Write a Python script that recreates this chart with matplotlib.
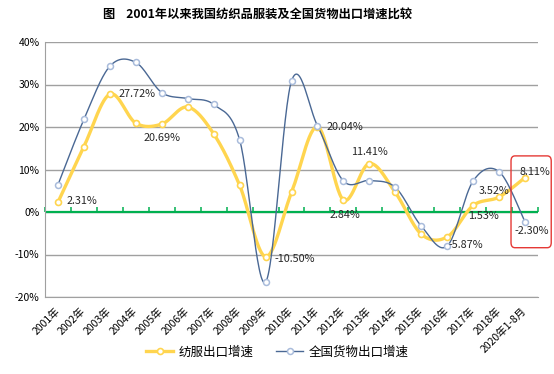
import numpy as np
import matplotlib
matplotlib.use('Agg')
import matplotlib.pyplot as plt
from matplotlib.patches import FancyBboxPatch

plt.rcParams['font.family'] = ['Noto Sans CJK SC', 'DejaVu Sans']

categories = ['2001年', '2002年', '2003年', '2004年', '2005年', '2006年', '2007年',
              '2008年', '2009年', '2010年', '2011年', '2012年', '2013年', '2014年',
              '2015年', '2016年', '2017年', '2018年', '2020年1-8月']
textile = [2.31, 15.4, 27.72, 20.9, 20.69, 24.7, 18.4, 6.3, -10.50, 4.6,
           20.04, 2.84, 11.41, 4.6, -5.2, -5.87, 1.53, 3.52, 8.11]
national = [6.4, 21.8, 34.3, 35.2, 28.1, 26.7, 25.3, 17.0, -16.5, 30.8,
            20.3, 7.3, 7.4, 5.8, -3.3, -8.0, 7.3, 9.5, -2.30]
yticks = [-20, -10, 0, 10, 20, 30, 40]

# labelled points: (series, index, dx px, dy px)
labels = [('t', 0, 24, 1), ('t', 2, 27, 0), ('t', 4, 0, -14), ('t', 8, 29, -2),
          ('t', 10, 27, 0), ('t', 11, 2, -15), ('t', 12, 0, 12), ('t', 15, 19, -8),
          ('t', 16, 10, -11), ('t', 17, -5, 6), ('t', 18, 10, 6), ('n', 18, 7, -9)]


def smooth(x, y, n=30):
    # excel-like smoothed line (catmull-rom bezier)
    x = np.asarray(x, float)
    y = np.asarray(y, float)
    px = np.concatenate([[x[0]], x, [x[-1]]])
    py = np.concatenate([[y[0]], y, [y[-1]]])
    t = np.linspace(0, 1, n)
    xs, ys = [], []
    for i in range(1, len(px) - 2):
        p0x, p1x, p2x, p3x = px[i - 1], px[i], px[i + 1], px[i + 2]
        p0y, p1y, p2y, p3y = py[i - 1], py[i], py[i + 1], py[i + 2]
        c1x, c1y = p1x + (p2x - p0x) / 6, p1y + (p2y - p0y) / 6
        c2x, c2y = p2x - (p3x - p1x) / 6, p2y - (p3y - p1y) / 6
        b = [(1 - t) ** 3, 3 * (1 - t) ** 2 * t, 3 * (1 - t) * t ** 2, t ** 3]
        xs.append(b[0] * p1x + b[1] * c1x + b[2] * c2x + b[3] * p2x)
        ys.append(b[0] * p1y + b[1] * c1y + b[2] * c2y + b[3] * p2y)
    return np.concatenate(xs), np.concatenate(ys)


fig = plt.figure(figsize=(5.54, 3.74), dpi=100)
ax = fig.add_axes([45 / 554, 1 - 297 / 374, 493 / 554, 255 / 374])

x = np.arange(len(categories))
yellow = '#FFD54F'
blue = '#4A6894'

ax.set_xlim(-0.5, len(categories) - 0.5)
ax.set_ylim(yticks[0], yticks[-1])
ax.set_yticks(yticks)
ax.set_yticklabels([f'{v}%' for v in yticks], fontsize=7.5)
ax.yaxis.grid(True, color='#A0A0A0', linewidth=1)
ax.set_axisbelow(True)
for s in ['top', 'right']:
    ax.spines[s].set_visible(False)
for s in ['left', 'bottom']:
    ax.spines[s].set_color('#A0A0A0')
ax.tick_params(axis='y', length=0, pad=4)
ax.set_xticks(x)
ax.set_xticklabels(categories, rotation=45, ha='right', va='center',
                   rotation_mode='anchor', fontsize=7.5)
ax.tick_params(axis='x', length=0, pad=9)

# zero axis with category-boundary ticks
ax.axhline(0, color='#00B050', linewidth=1.6, zorder=2)
bounds = np.arange(len(categories) + 1) - 0.5
ax.plot(bounds, np.zeros_like(bounds), linestyle='none', marker=2,
        markersize=3.5, mew=1.1, color='#00B050', zorder=2, clip_on=False)

sx, sy = smooth(x, textile)
ax.plot(sx, sy, color=yellow, linewidth=2.4, zorder=3, solid_capstyle='round')
ax.plot(x, textile, linestyle='none', marker='o', markersize=4.3,
        markerfacecolor='white', markeredgecolor=yellow, mew=1.2, zorder=4)
sx, sy = smooth(x, national)
ax.plot(sx, sy, color=blue, linewidth=1, zorder=3)
ax.plot(x, national, linestyle='none', marker='o', markersize=4.3,
        markerfacecolor='white', markeredgecolor='#A9BCDB', mew=1.1, zorder=4)

for ser, i, dx, dy in labels:
    v = textile[i] if ser == 't' else national[i]
    ax.annotate(f'{v:.2f}%', (x[i], v), xytext=(dx, dy), textcoords='offset pixels',
                ha='center', va='center', fontsize=7.8, color='#262626',
                zorder=5, annotation_clip=False)

# highlight box around latest period
last = len(categories) - 1
box = FancyBboxPatch((last - 0.54, -8.4), 1.55, 21.6,
                     boxstyle='round,pad=0,rounding_size=0.15',
                     fill=False, edgecolor='#E53935', linewidth=1,
                     clip_on=False, zorder=6, mutation_aspect=8)
ax.add_patch(box)

# legend
h1, = ax.plot([], [], color=yellow, linewidth=2.4, marker='o', markersize=4.3,
              markerfacecolor='white', markeredgecolor=yellow, mew=1.2)
h2, = ax.plot([], [], color=blue, linewidth=1, marker='o', markersize=4.3,
              markerfacecolor='white', markeredgecolor='#A9BCDB', mew=1.1)
fig.legend([h1, h2], ['纺服出口增速', '全国货物出口增速'], loc='center',
           bbox_to_anchor=(0.5, 1 - 352 / 374), ncol=2, frameon=False,
           fontsize=9, handlelength=2.2, columnspacing=1.8, handletextpad=0.4)

fig.text(258 / 554, 1 - 15 / 374, '图    2001年以来我国纺织品服装及全国货物出口增速比较',
         ha='center', va='center', fontsize=8.8, fontweight='bold')

fig.savefig('out.png', dpi=100)
